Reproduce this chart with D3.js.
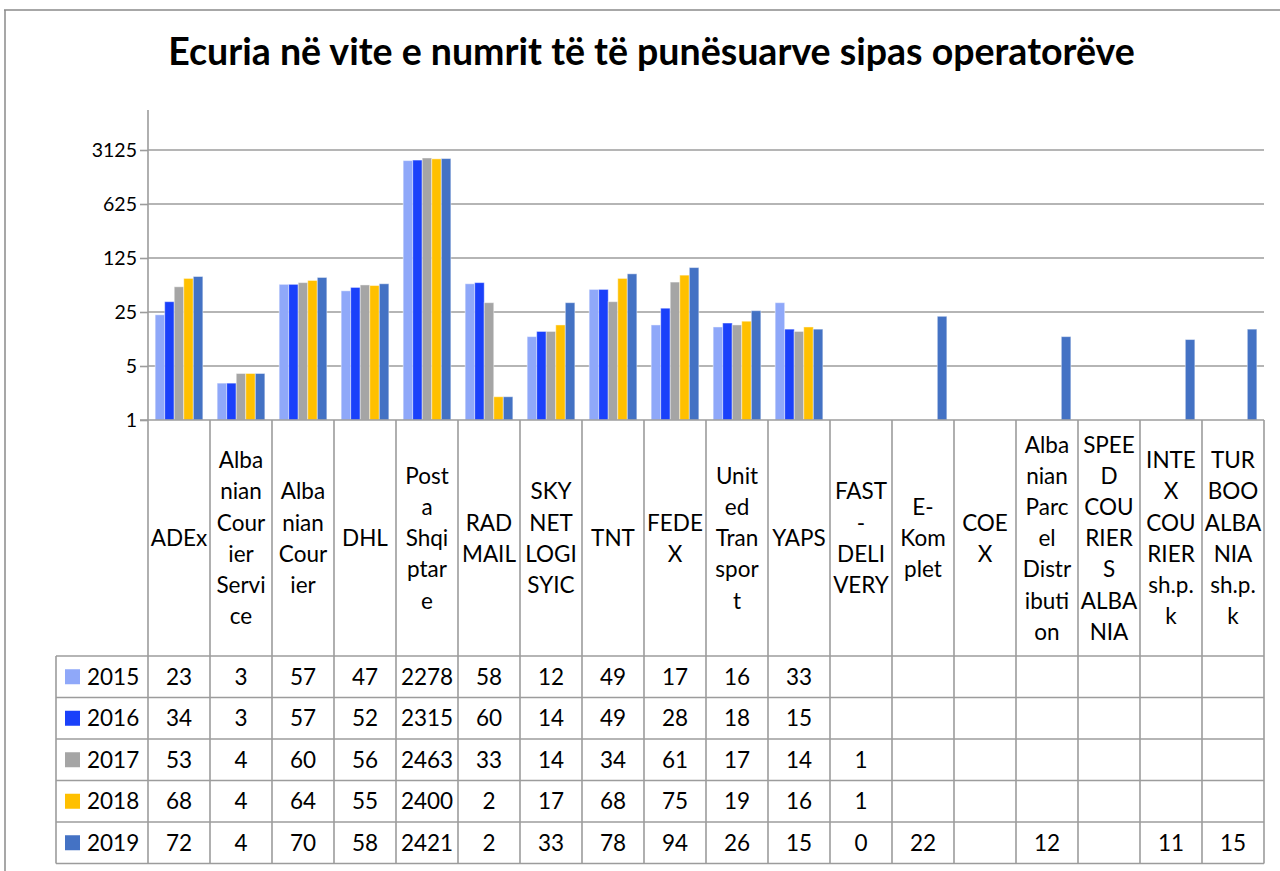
<!DOCTYPE html>
<html>
<head>
<meta charset="utf-8">
<script src="https://cdn.jsdelivr.net/npm/d3@7"></script>
<style>
  html, body { margin: 0; padding: 0; background: #fff; }
  svg { display: block; }
  text { font-family: Lato, "Noto Sans", sans-serif; fill: #000; }
</style>
</head>
<body>
<svg id="chart" width="1280" height="871"></svg>
<script>
// ---------- DATA ----------
const title = "Ecuria në vite e numrit të të punësuarve sipas operatorëve";
const categories = [
  "ADEx", "Albanian Courier Service", "Albanian Courier", "DHL", "Posta Shqiptare",
  "RADMAIL", "SKYNET LOGISYIC", "TNT", "FEDEX", "United Transport", "YAPS",
  "FAST-DELIVERY", "E-Komplet", "COEX", "Albanian Parcel Distribution",
  "SPEED COURIERS ALBANIA", "INTEX COURIER sh.p.k", "TURBOO ALBANIA sh.p.k"
];
const categoryLabelLines = [
  ["ADEx"], ["Alba","nian","Cour","ier","Servi","ce"], ["Alba","nian","Cour","ier"], ["DHL"],
  ["Post","a","Shqi","ptar","e"], ["RAD","MAIL"], ["SKY","NET","LOGI","SYIC"], ["TNT"],
  ["FEDE","X"], ["Unit","ed","Tran","spor","t"], ["YAPS"], ["FAST","-","DELI","VERY"],
  ["E-","Kom","plet"], ["COE","X"], ["Alba","nian","Parc","el","Distr","ibuti","on"],
  ["SPEE","D","COU","RIER","S","ALBA","NIA"], ["INTE","X","COU","RIER","sh.p.","k"],
  ["TUR","BOO","ALBA","NIA","sh.p.","k"]
];
const years = ["2015", "2016", "2017", "2018", "2019"];
const values2015 = [23, 3, 57, 47, 2278, 58, 12, 49, 17, 16, 33, null, null, null, null, null, null, null];
const values2016 = [34, 3, 57, 52, 2315, 60, 14, 49, 28, 18, 15, null, null, null, null, null, null, null];
const values2017 = [53, 4, 60, 56, 2463, 33, 14, 34, 61, 17, 14, 1, null, null, null, null, null, null];
const values2018 = [68, 4, 64, 55, 2400, 2, 17, 68, 75, 19, 16, 1, null, null, null, null, null, null];
const values2019 = [72, 4, 70, 58, 2421, 2, 33, 78, 94, 26, 15, 0, 22, null, 12, null, 11, 15];
const yTickValues = [1, 5, 25, 125, 625, 3125];

const seriesValues = [values2015, values2016, values2017, values2018, values2019];
const colors = ["#8fa8f9", "#1a40fa", "#a5a5a5", "#ffc000", "#4472c4"];

// ---------- LAYOUT ----------
const svg = d3.select("#chart");
const plotLeft = 148, plotRight = 1264, plotBottom = 420, plotTop = 110;
const headerBottom = 656, rowH = 41.5, legendLeft = 56;
const gridColor = "#9c9c9c";

// outer frame
svg.append("line").attr("x1", 4).attr("x2", 1280).attr("y1", 10).attr("y2", 10)
  .attr("stroke", "#8a8a8a").attr("stroke-width", 1.5);
svg.append("line").attr("x1", 5).attr("x2", 5).attr("y1", 10).attr("y2", 871)
  .attr("stroke", "#8a8a8a").attr("stroke-width", 1.5);

// title, fitted to the reference width
const t = svg.append("text").attr("x", 651.5).attr("y", 65).attr("text-anchor", "middle")
  .attr("font-weight", "bold").attr("font-size", 28).text(title);
const tw = t.node().getComputedTextLength();
t.attr("font-size", 28 * 967 / tw);

// scales
const x = d3.scaleBand().domain(categories).range([plotLeft, plotRight]).padding(0);
const xs = d3.scaleBand().domain(years).range([0, x.bandwidth()]).paddingInner(0).paddingOuter(0.75);
const y = d3.scaleLog().base(5).domain([1, 3125]).range([plotBottom, 150]);

// gridlines
svg.append("g").selectAll("line").data(yTickValues.slice(1)).join("line")
  .attr("x1", plotLeft).attr("x2", plotRight)
  .attr("y1", d => y(d)).attr("y2", d => y(d))
  .attr("stroke", gridColor).attr("stroke-width", 1.6);

// y axis
const yAxis = svg.append("g").attr("transform", `translate(${plotLeft},0)`)
  .call(d3.axisLeft(y).tickValues(yTickValues).tickFormat(d3.format("d")).tickSize(8).tickPadding(3));
yAxis.select(".domain").remove();
yAxis.selectAll(".tick line").attr("stroke", gridColor).attr("stroke-width", 1.6);
yAxis.selectAll(".tick text").attr("font-size", 19.5).attr("font-family", "Lato").attr("fill", "#000");
svg.append("line").attr("x1", plotLeft).attr("x2", plotLeft).attr("y1", plotTop).attr("y2", plotBottom)
  .attr("stroke", gridColor).attr("stroke-width", 1.6);

// bars
const barData = [];
seriesValues.forEach((vals, si) => vals.forEach((v, ci) => {
  if (v != null && v > 0) barData.push({ cat: categories[ci], year: years[si], v, si });
}));
svg.append("g").selectAll("rect").data(barData).join("rect")
  .attr("x", d => x(d.cat) + xs(d.year))
  .attr("width", xs.bandwidth())
  .attr("y", d => y(d.v))
  .attr("height", d => Math.max(0, y(1) - y(d.v)))
  .attr("fill", d => colors[d.si])
  .attr("stroke", "rgba(255,255,255,0.45)").attr("stroke-width", 1);

// x axis line (top of table)
svg.append("line").attr("x1", plotLeft - 8).attr("x2", plotRight).attr("y1", plotBottom).attr("y2", plotBottom)
  .attr("stroke", gridColor).attr("stroke-width", 1.6);

// ---------- DATA TABLE ----------
const tableBottom = headerBottom + rowH * years.length;
const tg = svg.append("g");
// vertical lines at category boundaries
const bounds = categories.map(c => x(c)).concat([plotRight]);
tg.selectAll("line.v").data(bounds).join("line").attr("class", "v")
  .attr("x1", d => d).attr("x2", d => d).attr("y1", plotBottom).attr("y2", tableBottom)
  .attr("stroke", gridColor).attr("stroke-width", 1.6);
tg.append("line").attr("x1", legendLeft).attr("x2", legendLeft).attr("y1", headerBottom).attr("y2", tableBottom)
  .attr("stroke", gridColor).attr("stroke-width", 1.6);
// horizontal lines
const rowLines = d3.range(years.length + 1).map(i => headerBottom + i * rowH);
tg.selectAll("line.h").data(rowLines).join("line").attr("class", "h")
  .attr("x1", legendLeft).attr("x2", plotRight).attr("y1", d => d).attr("y2", d => d)
  .attr("stroke", gridColor).attr("stroke-width", 1.6);

// header labels
const fontSize = 22.5, lineH = 31.2, capHalf = fontSize * 0.36;
const headerMid = (plotBottom + headerBottom) / 2;
categories.forEach((c, ci) => {
  const lines = categoryLabelLines[ci];
  const cx = x(c) + x.bandwidth() / 2;
  lines.forEach((ln, li) => {
    tg.append("text").attr("x", cx)
      .attr("y", headerMid + (li - (lines.length - 1) / 2) * lineH + capHalf)
      .attr("text-anchor", "middle").attr("font-size", fontSize).text(ln);
  });
});

// rows
years.forEach((yr, si) => {
  const rowMid = headerBottom + si * rowH + rowH / 2;
  tg.append("rect").attr("x", 65).attr("y", rowMid - 7.5).attr("width", 15).attr("height", 15)
    .attr("fill", colors[si]);
  tg.append("text").attr("x", 87).attr("y", rowMid + capHalf).attr("font-size", fontSize).text(yr);
  seriesValues[si].forEach((v, ci) => {
    if (v == null) return;
    tg.append("text").attr("x", x(categories[ci]) + x.bandwidth() / 2).attr("y", rowMid + capHalf)
      .attr("text-anchor", "middle").attr("font-size", fontSize).text(v);
  });
});
</script>
</body>
</html>
